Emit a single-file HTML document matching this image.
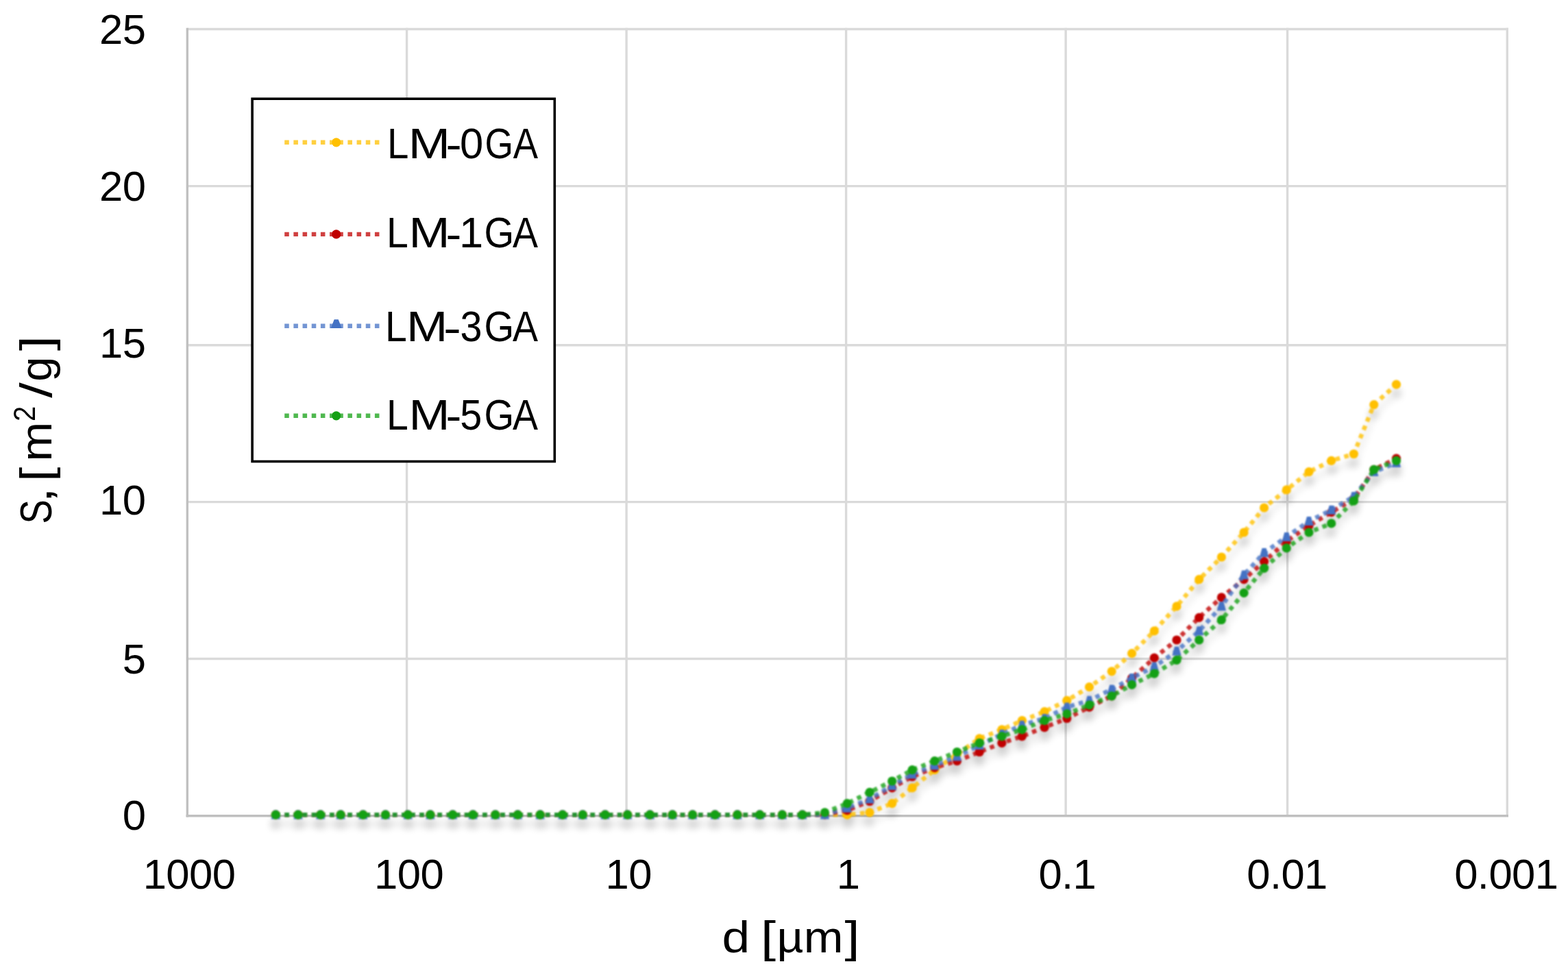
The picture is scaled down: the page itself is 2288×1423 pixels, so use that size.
<!DOCTYPE html>
<html lang="en">
<head>
<meta charset="utf-8">
<title>S [m2/g] vs d [um]</title>
<style>
html,body{margin:0;padding:0;background:#fff;}
body{width:2288px;height:1423px;overflow:hidden;}
svg{display:block;}
.bs{filter:blur(0.9px);}
.bt{}
text{font-family:"Liberation Sans","DejaVu Sans",sans-serif;fill:#000;}
.ax{font-size:61.6px;letter-spacing:-0.6px;}
.lg{font-size:62.5px;}
.tt{font-size:65px;}
</style>
</head>
<body>
<svg width="2288" height="1423" viewBox="0 0 2288 1423">
<defs>
<filter id="sh" x="-5%" y="-5%" width="110%" height="115%" color-interpolation-filters="sRGB">
<feGaussianBlur in="SourceAlpha" stdDeviation="5.2"/>
<feOffset dx="-0.5" dy="12.8" result="o"/>
<feComponentTransfer><feFuncA type="linear" slope="0.21"/></feComponentTransfer>
<feMerge><feMergeNode/><feMergeNode in="SourceGraphic"/></feMerge>
</filter>
</defs>
<rect width="2288" height="1423" fill="#fff"/>

<g stroke="#DADADA" stroke-width="3.4" fill="none">
<line x1="273.3" y1="42.5" x2="2201.0" y2="42.5"/>
<line x1="273.3" y1="271.6" x2="2201.0" y2="271.6"/>
<line x1="273.3" y1="503.8" x2="2201.0" y2="503.8"/>
<line x1="273.3" y1="732.6" x2="2201.0" y2="732.6"/>
<line x1="273.3" y1="961.5" x2="2201.0" y2="961.5"/>
<line x1="593.6" y1="40.8" x2="593.6" y2="1190.7"/>
<line x1="914.1" y1="40.8" x2="914.1" y2="1190.7"/>
<line x1="1234.6" y1="40.8" x2="1234.6" y2="1190.7"/>
<line x1="1555.1" y1="40.8" x2="1555.1" y2="1190.7"/>
<line x1="1878.6" y1="40.8" x2="1878.6" y2="1190.7"/>
<line x1="2199.3" y1="40.8" x2="2199.3" y2="1190.7"/>
</g>
<g stroke="#C0C0C0" stroke-width="3.4" fill="none">
<line x1="273.3" y1="40.8" x2="273.3" y2="1192.4"/>
<line x1="271.6" y1="1190.7" x2="2201.0" y2="1190.7"/>
</g>
<g class="bs"><g filter="url(#sh)">
<g>
<path d="M402.3,1189.1 L435.0,1189.1 L467.7,1189.1 L497.1,1189.1 L529.8,1189.1 L562.5,1189.1 L595.2,1189.1 L627.9,1189.1 L660.6,1189.1 L690.1,1189.1 L722.8,1189.1 L755.5,1189.1 L788.2,1189.1 L820.9,1189.1 L850.3,1189.1 L883.0,1189.1 L915.7,1189.1 L948.4,1189.1 L981.2,1189.1 L1010.6,1189.1 L1043.3,1189.1 L1076.0,1189.1 L1108.7,1189.1 L1141.4,1189.1 L1170.8,1189.1 L1203.5,1189.1 L1236.2,1189.1 L1269.0,1185.8 L1301.7,1172.7 L1331.1,1149.9 L1363.8,1123.7 L1396.5,1100.8 L1429.2,1077.9 L1461.9,1064.8 L1491.3,1051.7 L1524.1,1038.7 L1556.8,1022.3 L1589.5,1002.7 L1622.2,979.8 L1651.6,953.6 L1684.3,920.9 L1717.0,884.9 L1749.7,845.7 L1782.4,813.0 L1815.1,777.0 L1844.6,741.0 L1877.3,714.9 L1910.0,688.7 L1942.7,672.4 L1975.4,662.5 L2004.8,590.6 L2037.5,561.2" fill="none" stroke="#FFC000" stroke-opacity="0.8" stroke-width="6.4" stroke-dasharray="6.56 6.56"/>
<g fill="#FFC000">
<circle cx="402.3" cy="1189.1" r="6.6"/>
<circle cx="435.0" cy="1189.1" r="6.6"/>
<circle cx="467.7" cy="1189.1" r="6.6"/>
<circle cx="497.1" cy="1189.1" r="6.6"/>
<circle cx="529.8" cy="1189.1" r="6.6"/>
<circle cx="562.5" cy="1189.1" r="6.6"/>
<circle cx="595.2" cy="1189.1" r="6.6"/>
<circle cx="627.9" cy="1189.1" r="6.6"/>
<circle cx="660.6" cy="1189.1" r="6.6"/>
<circle cx="690.1" cy="1189.1" r="6.6"/>
<circle cx="722.8" cy="1189.1" r="6.6"/>
<circle cx="755.5" cy="1189.1" r="6.6"/>
<circle cx="788.2" cy="1189.1" r="6.6"/>
<circle cx="820.9" cy="1189.1" r="6.6"/>
<circle cx="850.3" cy="1189.1" r="6.6"/>
<circle cx="883.0" cy="1189.1" r="6.6"/>
<circle cx="915.7" cy="1189.1" r="6.6"/>
<circle cx="948.4" cy="1189.1" r="6.6"/>
<circle cx="981.2" cy="1189.1" r="6.6"/>
<circle cx="1010.6" cy="1189.1" r="6.6"/>
<circle cx="1043.3" cy="1189.1" r="6.6"/>
<circle cx="1076.0" cy="1189.1" r="6.6"/>
<circle cx="1108.7" cy="1189.1" r="6.6"/>
<circle cx="1141.4" cy="1189.1" r="6.6"/>
<circle cx="1170.8" cy="1189.1" r="6.6"/>
<circle cx="1203.5" cy="1189.1" r="6.6"/>
<circle cx="1236.2" cy="1189.1" r="6.6"/>
<circle cx="1269.0" cy="1185.8" r="6.6"/>
<circle cx="1301.7" cy="1172.7" r="6.6"/>
<circle cx="1331.1" cy="1149.9" r="6.6"/>
<circle cx="1363.8" cy="1123.7" r="6.6"/>
<circle cx="1396.5" cy="1100.8" r="6.6"/>
<circle cx="1429.2" cy="1077.9" r="6.6"/>
<circle cx="1461.9" cy="1064.8" r="6.6"/>
<circle cx="1491.3" cy="1051.7" r="6.6"/>
<circle cx="1524.1" cy="1038.7" r="6.6"/>
<circle cx="1556.8" cy="1022.3" r="6.6"/>
<circle cx="1589.5" cy="1002.7" r="6.6"/>
<circle cx="1622.2" cy="979.8" r="6.6"/>
<circle cx="1651.6" cy="953.6" r="6.6"/>
<circle cx="1684.3" cy="920.9" r="6.6"/>
<circle cx="1717.0" cy="884.9" r="6.6"/>
<circle cx="1749.7" cy="845.7" r="6.6"/>
<circle cx="1782.4" cy="813.0" r="6.6"/>
<circle cx="1815.1" cy="777.0" r="6.6"/>
<circle cx="1844.6" cy="741.0" r="6.6"/>
<circle cx="1877.3" cy="714.9" r="6.6"/>
<circle cx="1910.0" cy="688.7" r="6.6"/>
<circle cx="1942.7" cy="672.4" r="6.6"/>
<circle cx="1975.4" cy="662.5" r="6.6"/>
<circle cx="2004.8" cy="590.6" r="6.6"/>
<circle cx="2037.5" cy="561.2" r="6.6"/>
</g></g>
<g>
<path d="M402.3,1189.1 L435.0,1189.1 L467.7,1189.1 L497.1,1189.1 L529.8,1189.1 L562.5,1189.1 L595.2,1189.1 L627.9,1189.1 L660.6,1189.1 L690.1,1189.1 L722.8,1189.1 L755.5,1189.1 L788.2,1189.1 L820.9,1189.1 L850.3,1189.1 L883.0,1189.1 L915.7,1189.1 L948.4,1189.1 L981.2,1189.1 L1010.6,1189.1 L1043.3,1189.1 L1076.0,1189.1 L1108.7,1189.1 L1141.4,1189.1 L1170.8,1189.1 L1203.5,1189.1 L1236.2,1182.6 L1269.0,1169.5 L1301.7,1149.9 L1331.1,1133.5 L1363.8,1120.4 L1396.5,1110.6 L1429.2,1097.5 L1461.9,1084.4 L1491.3,1074.6 L1524.1,1061.6 L1556.8,1048.5 L1589.5,1032.1 L1622.2,1015.8 L1651.6,989.6 L1684.3,960.2 L1717.0,934.0 L1749.7,901.3 L1782.4,871.9 L1815.1,845.7 L1844.6,819.5 L1877.3,790.1 L1910.0,767.2 L1942.7,747.6 L1975.4,728.0 L2004.8,685.4 L2037.5,669.1" fill="none" stroke="#C00000" stroke-opacity="0.8" stroke-width="6.4" stroke-dasharray="6.56 6.56"/>
<g fill="#C00000">
<circle cx="402.3" cy="1189.1" r="6.6"/>
<circle cx="435.0" cy="1189.1" r="6.6"/>
<circle cx="467.7" cy="1189.1" r="6.6"/>
<circle cx="497.1" cy="1189.1" r="6.6"/>
<circle cx="529.8" cy="1189.1" r="6.6"/>
<circle cx="562.5" cy="1189.1" r="6.6"/>
<circle cx="595.2" cy="1189.1" r="6.6"/>
<circle cx="627.9" cy="1189.1" r="6.6"/>
<circle cx="660.6" cy="1189.1" r="6.6"/>
<circle cx="690.1" cy="1189.1" r="6.6"/>
<circle cx="722.8" cy="1189.1" r="6.6"/>
<circle cx="755.5" cy="1189.1" r="6.6"/>
<circle cx="788.2" cy="1189.1" r="6.6"/>
<circle cx="820.9" cy="1189.1" r="6.6"/>
<circle cx="850.3" cy="1189.1" r="6.6"/>
<circle cx="883.0" cy="1189.1" r="6.6"/>
<circle cx="915.7" cy="1189.1" r="6.6"/>
<circle cx="948.4" cy="1189.1" r="6.6"/>
<circle cx="981.2" cy="1189.1" r="6.6"/>
<circle cx="1010.6" cy="1189.1" r="6.6"/>
<circle cx="1043.3" cy="1189.1" r="6.6"/>
<circle cx="1076.0" cy="1189.1" r="6.6"/>
<circle cx="1108.7" cy="1189.1" r="6.6"/>
<circle cx="1141.4" cy="1189.1" r="6.6"/>
<circle cx="1170.8" cy="1189.1" r="6.6"/>
<circle cx="1203.5" cy="1189.1" r="6.6"/>
<circle cx="1236.2" cy="1182.6" r="6.6"/>
<circle cx="1269.0" cy="1169.5" r="6.6"/>
<circle cx="1301.7" cy="1149.9" r="6.6"/>
<circle cx="1331.1" cy="1133.5" r="6.6"/>
<circle cx="1363.8" cy="1120.4" r="6.6"/>
<circle cx="1396.5" cy="1110.6" r="6.6"/>
<circle cx="1429.2" cy="1097.5" r="6.6"/>
<circle cx="1461.9" cy="1084.4" r="6.6"/>
<circle cx="1491.3" cy="1074.6" r="6.6"/>
<circle cx="1524.1" cy="1061.6" r="6.6"/>
<circle cx="1556.8" cy="1048.5" r="6.6"/>
<circle cx="1589.5" cy="1032.1" r="6.6"/>
<circle cx="1622.2" cy="1015.8" r="6.6"/>
<circle cx="1651.6" cy="989.6" r="6.6"/>
<circle cx="1684.3" cy="960.2" r="6.6"/>
<circle cx="1717.0" cy="934.0" r="6.6"/>
<circle cx="1749.7" cy="901.3" r="6.6"/>
<circle cx="1782.4" cy="871.9" r="6.6"/>
<circle cx="1815.1" cy="845.7" r="6.6"/>
<circle cx="1844.6" cy="819.5" r="6.6"/>
<circle cx="1877.3" cy="790.1" r="6.6"/>
<circle cx="1910.0" cy="767.2" r="6.6"/>
<circle cx="1942.7" cy="747.6" r="6.6"/>
<circle cx="1975.4" cy="728.0" r="6.6"/>
<circle cx="2004.8" cy="685.4" r="6.6"/>
<circle cx="2037.5" cy="669.1" r="6.6"/>
</g></g>
<g>
<path d="M402.3,1189.1 L435.0,1189.1 L467.7,1189.1 L497.1,1189.1 L529.8,1189.1 L562.5,1189.1 L595.2,1189.1 L627.9,1189.1 L660.6,1189.1 L690.1,1189.1 L722.8,1189.1 L755.5,1189.1 L788.2,1189.1 L820.9,1189.1 L850.3,1189.1 L883.0,1189.1 L915.7,1189.1 L948.4,1189.1 L981.2,1189.1 L1010.6,1189.1 L1043.3,1189.1 L1076.0,1189.1 L1108.7,1189.1 L1141.4,1189.1 L1170.8,1189.1 L1203.5,1189.1 L1236.2,1179.3 L1269.0,1166.2 L1301.7,1146.6 L1331.1,1130.2 L1363.8,1117.1 L1396.5,1104.1 L1429.2,1087.7 L1461.9,1071.4 L1491.3,1058.3 L1524.1,1048.5 L1556.8,1032.1 L1589.5,1022.3 L1622.2,1006.0 L1651.6,989.6 L1684.3,973.2 L1717.0,950.4 L1749.7,920.9 L1782.4,884.9 L1815.1,839.2 L1844.6,806.5 L1877.3,783.6 L1910.0,760.7 L1942.7,744.3 L1975.4,724.7 L2004.8,688.7 L2037.5,675.6" fill="none" stroke="#4472C4" stroke-opacity="0.8" stroke-width="6.4" stroke-dasharray="6.56 6.56"/>
<g fill="#4472C4">
<path d="M395.7,1195.5 L408.9,1195.5 L405.3,1182.5 L399.3,1182.5 Z"/>
<path d="M428.4,1195.5 L441.6,1195.5 L438.0,1182.5 L432.0,1182.5 Z"/>
<path d="M461.1,1195.5 L474.3,1195.5 L470.7,1182.5 L464.7,1182.5 Z"/>
<path d="M490.5,1195.5 L503.7,1195.5 L500.1,1182.5 L494.1,1182.5 Z"/>
<path d="M523.2,1195.5 L536.4,1195.5 L532.8,1182.5 L526.8,1182.5 Z"/>
<path d="M555.9,1195.5 L569.1,1195.5 L565.5,1182.5 L559.5,1182.5 Z"/>
<path d="M588.6,1195.5 L601.8,1195.5 L598.2,1182.5 L592.2,1182.5 Z"/>
<path d="M621.3,1195.5 L634.5,1195.5 L630.9,1182.5 L624.9,1182.5 Z"/>
<path d="M654.0,1195.5 L667.2,1195.5 L663.6,1182.5 L657.6,1182.5 Z"/>
<path d="M683.5,1195.5 L696.7,1195.5 L693.1,1182.5 L687.1,1182.5 Z"/>
<path d="M716.2,1195.5 L729.4,1195.5 L725.8,1182.5 L719.8,1182.5 Z"/>
<path d="M748.9,1195.5 L762.1,1195.5 L758.5,1182.5 L752.5,1182.5 Z"/>
<path d="M781.6,1195.5 L794.8,1195.5 L791.2,1182.5 L785.2,1182.5 Z"/>
<path d="M814.3,1195.5 L827.5,1195.5 L823.9,1182.5 L817.9,1182.5 Z"/>
<path d="M843.7,1195.5 L856.9,1195.5 L853.3,1182.5 L847.3,1182.5 Z"/>
<path d="M876.4,1195.5 L889.6,1195.5 L886.0,1182.5 L880.0,1182.5 Z"/>
<path d="M909.1,1195.5 L922.3,1195.5 L918.7,1182.5 L912.7,1182.5 Z"/>
<path d="M941.8,1195.5 L955.0,1195.5 L951.4,1182.5 L945.4,1182.5 Z"/>
<path d="M974.6,1195.5 L987.8,1195.5 L984.2,1182.5 L978.2,1182.5 Z"/>
<path d="M1004.0,1195.5 L1017.2,1195.5 L1013.6,1182.5 L1007.6,1182.5 Z"/>
<path d="M1036.7,1195.5 L1049.9,1195.5 L1046.3,1182.5 L1040.3,1182.5 Z"/>
<path d="M1069.4,1195.5 L1082.6,1195.5 L1079.0,1182.5 L1073.0,1182.5 Z"/>
<path d="M1102.1,1195.5 L1115.3,1195.5 L1111.7,1182.5 L1105.7,1182.5 Z"/>
<path d="M1134.8,1195.5 L1148.0,1195.5 L1144.4,1182.5 L1138.4,1182.5 Z"/>
<path d="M1164.2,1195.5 L1177.4,1195.5 L1173.8,1182.5 L1167.8,1182.5 Z"/>
<path d="M1196.9,1195.5 L1210.1,1195.5 L1206.5,1182.5 L1200.5,1182.5 Z"/>
<path d="M1229.6,1185.7 L1242.8,1185.7 L1239.2,1172.7 L1233.2,1172.7 Z"/>
<path d="M1262.4,1172.6 L1275.6,1172.6 L1272.0,1159.6 L1266.0,1159.6 Z"/>
<path d="M1295.1,1153.0 L1308.3,1153.0 L1304.7,1140.0 L1298.7,1140.0 Z"/>
<path d="M1324.5,1136.6 L1337.7,1136.6 L1334.1,1123.6 L1328.1,1123.6 Z"/>
<path d="M1357.2,1123.5 L1370.4,1123.5 L1366.8,1110.5 L1360.8,1110.5 Z"/>
<path d="M1389.9,1110.5 L1403.1,1110.5 L1399.5,1097.5 L1393.5,1097.5 Z"/>
<path d="M1422.6,1094.1 L1435.8,1094.1 L1432.2,1081.1 L1426.2,1081.1 Z"/>
<path d="M1455.3,1077.8 L1468.5,1077.8 L1464.9,1064.8 L1458.9,1064.8 Z"/>
<path d="M1484.7,1064.7 L1497.9,1064.7 L1494.3,1051.7 L1488.3,1051.7 Z"/>
<path d="M1517.5,1054.9 L1530.7,1054.9 L1527.1,1041.9 L1521.1,1041.9 Z"/>
<path d="M1550.2,1038.5 L1563.4,1038.5 L1559.8,1025.5 L1553.8,1025.5 Z"/>
<path d="M1582.9,1028.7 L1596.1,1028.7 L1592.5,1015.7 L1586.5,1015.7 Z"/>
<path d="M1615.6,1012.4 L1628.8,1012.4 L1625.2,999.4 L1619.2,999.4 Z"/>
<path d="M1645.0,996.0 L1658.2,996.0 L1654.6,983.0 L1648.6,983.0 Z"/>
<path d="M1677.7,979.6 L1690.9,979.6 L1687.3,966.6 L1681.3,966.6 Z"/>
<path d="M1710.4,956.8 L1723.6,956.8 L1720.0,943.8 L1714.0,943.8 Z"/>
<path d="M1743.1,927.3 L1756.3,927.3 L1752.7,914.3 L1746.7,914.3 Z"/>
<path d="M1775.8,891.3 L1789.0,891.3 L1785.4,878.3 L1779.4,878.3 Z"/>
<path d="M1808.5,845.6 L1821.7,845.6 L1818.1,832.6 L1812.1,832.6 Z"/>
<path d="M1838.0,812.9 L1851.2,812.9 L1847.6,799.9 L1841.6,799.9 Z"/>
<path d="M1870.7,790.0 L1883.9,790.0 L1880.3,777.0 L1874.3,777.0 Z"/>
<path d="M1903.4,767.1 L1916.6,767.1 L1913.0,754.1 L1907.0,754.1 Z"/>
<path d="M1936.1,750.7 L1949.3,750.7 L1945.7,737.7 L1939.7,737.7 Z"/>
<path d="M1968.8,731.1 L1982.0,731.1 L1978.4,718.1 L1972.4,718.1 Z"/>
<path d="M1998.2,695.1 L2011.4,695.1 L2007.8,682.1 L2001.8,682.1 Z"/>
<path d="M2030.9,682.0 L2044.1,682.0 L2040.5,669.0 L2034.5,669.0 Z"/>
</g></g>
<g>
<path d="M402.3,1189.1 L435.0,1189.1 L467.7,1189.1 L497.1,1189.1 L529.8,1189.1 L562.5,1189.1 L595.2,1189.1 L627.9,1189.1 L660.6,1189.1 L690.1,1189.1 L722.8,1189.1 L755.5,1189.1 L788.2,1189.1 L820.9,1189.1 L850.3,1189.1 L883.0,1189.1 L915.7,1189.1 L948.4,1189.1 L981.2,1189.1 L1010.6,1189.1 L1043.3,1189.1 L1076.0,1189.1 L1108.7,1189.1 L1141.4,1189.1 L1170.8,1189.1 L1203.5,1185.8 L1236.2,1172.7 L1269.0,1156.4 L1301.7,1140.0 L1331.1,1123.7 L1363.8,1110.6 L1396.5,1097.5 L1429.2,1084.4 L1461.9,1074.6 L1491.3,1064.8 L1524.1,1051.7 L1556.8,1041.9 L1589.5,1028.8 L1622.2,1015.8 L1651.6,999.4 L1684.3,983.1 L1717.0,963.4 L1749.7,934.0 L1782.4,904.6 L1815.1,865.3 L1844.6,829.3 L1877.3,799.9 L1910.0,777.0 L1942.7,763.9 L1975.4,731.2 L2004.8,685.4 L2037.5,672.4" fill="none" stroke="#14A014" stroke-opacity="0.8" stroke-width="6.4" stroke-dasharray="6.56 6.56"/>
<g fill="#14A014">
<circle cx="402.3" cy="1189.1" r="6.6"/>
<circle cx="435.0" cy="1189.1" r="6.6"/>
<circle cx="467.7" cy="1189.1" r="6.6"/>
<circle cx="497.1" cy="1189.1" r="6.6"/>
<circle cx="529.8" cy="1189.1" r="6.6"/>
<circle cx="562.5" cy="1189.1" r="6.6"/>
<circle cx="595.2" cy="1189.1" r="6.6"/>
<circle cx="627.9" cy="1189.1" r="6.6"/>
<circle cx="660.6" cy="1189.1" r="6.6"/>
<circle cx="690.1" cy="1189.1" r="6.6"/>
<circle cx="722.8" cy="1189.1" r="6.6"/>
<circle cx="755.5" cy="1189.1" r="6.6"/>
<circle cx="788.2" cy="1189.1" r="6.6"/>
<circle cx="820.9" cy="1189.1" r="6.6"/>
<circle cx="850.3" cy="1189.1" r="6.6"/>
<circle cx="883.0" cy="1189.1" r="6.6"/>
<circle cx="915.7" cy="1189.1" r="6.6"/>
<circle cx="948.4" cy="1189.1" r="6.6"/>
<circle cx="981.2" cy="1189.1" r="6.6"/>
<circle cx="1010.6" cy="1189.1" r="6.6"/>
<circle cx="1043.3" cy="1189.1" r="6.6"/>
<circle cx="1076.0" cy="1189.1" r="6.6"/>
<circle cx="1108.7" cy="1189.1" r="6.6"/>
<circle cx="1141.4" cy="1189.1" r="6.6"/>
<circle cx="1170.8" cy="1189.1" r="6.6"/>
<circle cx="1203.5" cy="1185.8" r="6.6"/>
<circle cx="1236.2" cy="1172.7" r="6.6"/>
<circle cx="1269.0" cy="1156.4" r="6.6"/>
<circle cx="1301.7" cy="1140.0" r="6.6"/>
<circle cx="1331.1" cy="1123.7" r="6.6"/>
<circle cx="1363.8" cy="1110.6" r="6.6"/>
<circle cx="1396.5" cy="1097.5" r="6.6"/>
<circle cx="1429.2" cy="1084.4" r="6.6"/>
<circle cx="1461.9" cy="1074.6" r="6.6"/>
<circle cx="1491.3" cy="1064.8" r="6.6"/>
<circle cx="1524.1" cy="1051.7" r="6.6"/>
<circle cx="1556.8" cy="1041.9" r="6.6"/>
<circle cx="1589.5" cy="1028.8" r="6.6"/>
<circle cx="1622.2" cy="1015.8" r="6.6"/>
<circle cx="1651.6" cy="999.4" r="6.6"/>
<circle cx="1684.3" cy="983.1" r="6.6"/>
<circle cx="1717.0" cy="963.4" r="6.6"/>
<circle cx="1749.7" cy="934.0" r="6.6"/>
<circle cx="1782.4" cy="904.6" r="6.6"/>
<circle cx="1815.1" cy="865.3" r="6.6"/>
<circle cx="1844.6" cy="829.3" r="6.6"/>
<circle cx="1877.3" cy="799.9" r="6.6"/>
<circle cx="1910.0" cy="777.0" r="6.6"/>
<circle cx="1942.7" cy="763.9" r="6.6"/>
<circle cx="1975.4" cy="731.2" r="6.6"/>
<circle cx="2004.8" cy="685.4" r="6.6"/>
<circle cx="2037.5" cy="672.4" r="6.6"/>
</g></g>
</g></g>
<rect x="368.1" y="144.2" width="441.2" height="529.3" fill="#fff" stroke="#000" stroke-width="3.6"/>
<g class="bt">
<line x1="415.2" y1="207.8" x2="553.5" y2="207.8" stroke="#FFC000" stroke-opacity="0.75" stroke-width="6.4" stroke-dasharray="6.56 6.61"/>
<circle cx="490.7" cy="207.8" r="6.6" fill="#FFC000"/>
<text class="lg" y="230.6"><tspan x="565.0" y="230.6" textLength="31.4" lengthAdjust="spacingAndGlyphs">L</tspan><tspan x="595.8" y="230.6" textLength="61.3" lengthAdjust="spacingAndGlyphs">M</tspan><tspan x="650.6" y="232.2" textLength="23.2" lengthAdjust="spacingAndGlyphs">-</tspan><tspan x="671.0" y="230.6" textLength="34.3" lengthAdjust="spacingAndGlyphs">0</tspan><tspan x="707.5" y="230.6" textLength="41.5" lengthAdjust="spacingAndGlyphs">G</tspan><tspan x="748.8" y="230.6" textLength="36.3" lengthAdjust="spacingAndGlyphs">A</tspan></text>
<line x1="415.2" y1="341.9" x2="553.5" y2="341.9" stroke="#C00000" stroke-opacity="0.75" stroke-width="6.4" stroke-dasharray="6.56 6.61"/>
<circle cx="490.7" cy="341.9" r="6.6" fill="#C00000"/>
<text class="lg" y="361.4"><tspan x="564.0" y="361.4" textLength="31.8" lengthAdjust="spacingAndGlyphs">L</tspan><tspan x="596.4" y="361.4" textLength="60.0" lengthAdjust="spacingAndGlyphs">M</tspan><tspan x="650.6" y="363.0" textLength="22.9" lengthAdjust="spacingAndGlyphs">-</tspan><tspan x="669.9" y="361.4" textLength="35.2" lengthAdjust="spacingAndGlyphs">1</tspan><tspan x="706.5" y="361.4" textLength="43.7" lengthAdjust="spacingAndGlyphs">G</tspan><tspan x="747.9" y="361.4" textLength="37.0" lengthAdjust="spacingAndGlyphs">A</tspan></text>
<line x1="415.2" y1="475.7" x2="553.5" y2="475.7" stroke="#4472C4" stroke-opacity="0.75" stroke-width="6.4" stroke-dasharray="6.56 6.61"/>
<path d="M482.7,479.0 L498.7,479.0 L493.7,466.2 L487.7,466.2 Z" fill="#4472C4"/>
<text class="lg" y="498.2"><tspan x="561.9" y="498.2" textLength="31.8" lengthAdjust="spacingAndGlyphs">L</tspan><tspan x="593.1" y="498.2" textLength="60.3" lengthAdjust="spacingAndGlyphs">M</tspan><tspan x="647.0" y="499.8" textLength="26.0" lengthAdjust="spacingAndGlyphs">-</tspan><tspan x="671.4" y="498.2" textLength="32.0" lengthAdjust="spacingAndGlyphs">3</tspan><tspan x="706.5" y="498.2" textLength="43.7" lengthAdjust="spacingAndGlyphs">G</tspan><tspan x="747.9" y="498.2" textLength="37.0" lengthAdjust="spacingAndGlyphs">A</tspan></text>
<line x1="415.2" y1="606.8" x2="553.5" y2="606.8" stroke="#14A014" stroke-opacity="0.75" stroke-width="6.4" stroke-dasharray="6.56 6.61"/>
<circle cx="490.7" cy="606.8" r="6.6" fill="#14A014"/>
<text class="lg" y="626.6"><tspan x="564.0" y="626.6" textLength="31.8" lengthAdjust="spacingAndGlyphs">L</tspan><tspan x="596.4" y="626.6" textLength="60.0" lengthAdjust="spacingAndGlyphs">M</tspan><tspan x="650.6" y="628.2" textLength="22.9" lengthAdjust="spacingAndGlyphs">-</tspan><tspan x="671.3" y="626.6" textLength="32.0" lengthAdjust="spacingAndGlyphs">5</tspan><tspan x="706.5" y="626.6" textLength="43.7" lengthAdjust="spacingAndGlyphs">G</tspan><tspan x="747.9" y="626.6" textLength="37.0" lengthAdjust="spacingAndGlyphs">A</tspan></text>
<text class="ax" x="212.3" y="64" text-anchor="end">25</text>
<text class="ax" x="212.3" y="293" text-anchor="end">20</text>
<text class="ax" x="212.3" y="521.8" text-anchor="end">15</text>
<text class="ax" x="212.3" y="751" text-anchor="end">10</text>
<text class="ax" x="212.3" y="983.2" text-anchor="end">5</text>
<text class="ax" x="212.3" y="1211.3" text-anchor="end">0</text>
<text class="ax" x="276" y="1297.3" text-anchor="middle">1000</text>
<text class="ax" x="596.6" y="1297.3" text-anchor="middle">100</text>
<text class="ax" x="917.2" y="1297.3" text-anchor="middle">10</text>
<text class="ax" x="1237.6" y="1297.3" text-anchor="middle">1</text>
<text class="ax" x="1557.3" y="1297.3" text-anchor="middle">0.1</text>
<text class="ax" x="1878" y="1297.3" text-anchor="middle">0.01</text>
<text class="ax" x="2197.8" y="1297.3" text-anchor="middle">0.001</text>
<text class="tt" y="1390.4"><tspan x="1053.4" textLength="40.7" lengthAdjust="spacingAndGlyphs">d</tspan> <tspan x="1109.9" textLength="22.1" lengthAdjust="spacingAndGlyphs">[</tspan><tspan x="1133.4" textLength="39.0" lengthAdjust="spacingAndGlyphs">µ</tspan><tspan x="1172.8" textLength="57.8" lengthAdjust="spacingAndGlyphs">m</tspan><tspan x="1232.6" textLength="22.1" lengthAdjust="spacingAndGlyphs">]</tspan></text>
<text class="tt" transform="translate(74.6,762) rotate(-90)"><tspan x="-2.4" y="0.0" textLength="35.2" lengthAdjust="spacingAndGlyphs">S</tspan><tspan x="28.3" y="0.0" textLength="22.6" lengthAdjust="spacingAndGlyphs">,</tspan> <tspan x="59.0" y="0.0" textLength="21.3" lengthAdjust="spacingAndGlyphs">[</tspan><tspan x="88.4" y="0.0" textLength="57.9" lengthAdjust="spacingAndGlyphs">m</tspan><tspan x="147.1" y="-23.4" textLength="22.3" lengthAdjust="spacingAndGlyphs" font-size="44">2</tspan><tspan x="181.2" y="0.0" textLength="22.6" lengthAdjust="spacingAndGlyphs">/</tspan><tspan x="205.3" y="0.0" textLength="36.0" lengthAdjust="spacingAndGlyphs">g</tspan><tspan x="249.8" y="0.0" textLength="22.1" lengthAdjust="spacingAndGlyphs">]</tspan></text>
</g>
</svg>
</body>
</html>
